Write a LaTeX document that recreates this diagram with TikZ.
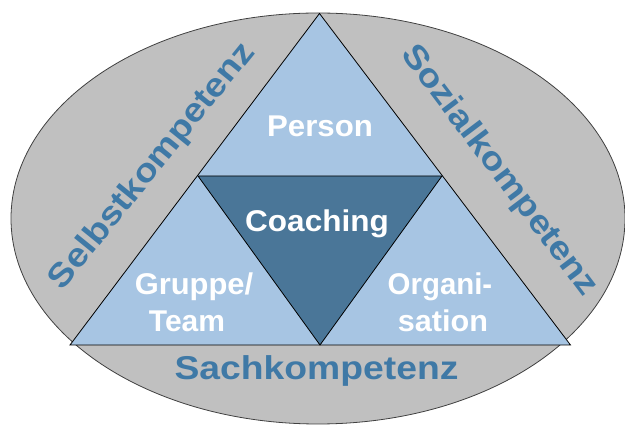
\documentclass[tikz,border=0pt]{standalone}
\usepackage{fontspec}
\setmainfont{Liberation Sans}
\definecolor{ellgray}{HTML}{C0C0C0}
\definecolor{lightblue}{HTML}{A7C5E3}
\definecolor{darkblue}{HTML}{4A7698}
\definecolor{txtblue}{HTML}{3F79A6}
\newcommand\mywidetext[2]{\scalebox{#1}[1]{#2}}
\tikzset{
  outerlabel/.style={font=\fontsize{33}{36}\selectfont\bfseries, text=txtblue, inner sep=0pt},
  innerlabel/.style={font=\fontsize{30}{36}\selectfont\bfseries, text=white, inner sep=0pt, anchor=base},
  edge/.style={draw=black, line width=0.8pt, line join=miter},
}
\begin{document}
\begin{tikzpicture}[x=1pt,y=-1pt]
\useasboundingbox (0,0) rectangle (625,427);
% ellipse
\draw[fill=ellgray, draw=black!75, line width=0.8pt] (318,218.5) ellipse [x radius=307, y radius=205.5];
% triangle corners
\coordinate (A) at (319.5,13.5);
\coordinate (L) at (70,345);
\coordinate (R) at (570.5,345);
\coordinate (IL) at (198,176);
\coordinate (IR) at (442,176);
\coordinate (IB) at (320,345);
\filldraw[edge, fill=lightblue] (A) -- (L) -- (R) -- cycle;
\filldraw[edge, fill=darkblue] (IL) -- (IR) -- (IB) -- cycle;
% outer labels
\node[outerlabel, rotate=51] (selbst) at (152.8,166.5) {\mywidetext{1.13}{Selbstkompetenz}};
\node[outerlabel, rotate=-53] (sozial) at (499,171) {\mywidetext{1.14}{Sozialkompetenz}};
\node[outerlabel, anchor=base] (sach) at (316.5,380) {\mywidetext{1.13}{Sachkompetenz}};
% inner labels
\node[innerlabel] (person) at (320,136.7) {\mywidetext{1.04}{Person}};
\node[innerlabel] (coaching) at (317,231.7) {\mywidetext{1.05}{Coaching}};
\node[innerlabel] (gruppe) at (194,295) {\mywidetext{1.03}{Gruppe/}};
\node[innerlabel] (team) at (187,331.7) {\mywidetext{1.0}{Team}};
\node[innerlabel] (organi) at (440,295) {\mywidetext{0.98}{Organi-}};
\node[innerlabel] (sation) at (443,331.7) {\mywidetext{1.02}{sation}};
\end{tikzpicture}
\end{document}
